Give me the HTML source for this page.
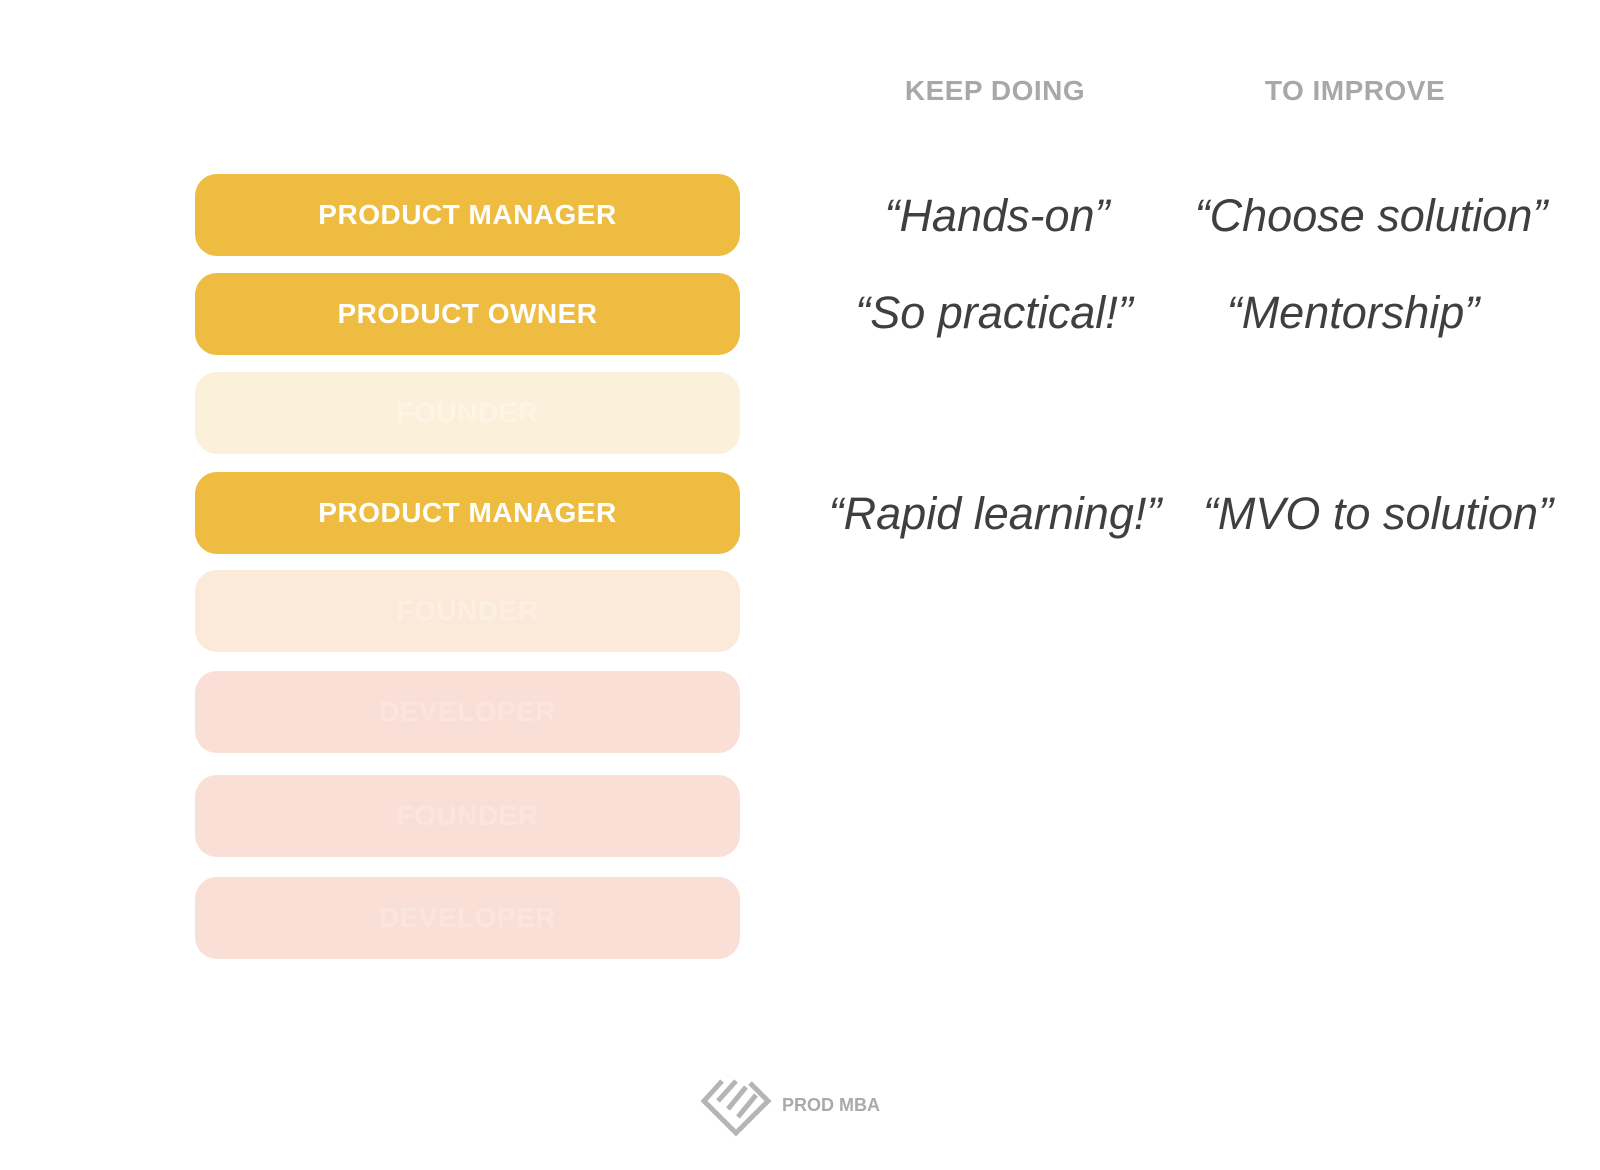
<!DOCTYPE html>
<html><head><meta charset="utf-8"><style>
body{margin:0;width:1600px;height:1170px;background:#fff;position:relative;overflow:hidden;font-family:"Liberation Sans",sans-serif}
.b{position:absolute;left:195px;width:545px;height:82px;border-radius:22px;color:#fff;font-weight:bold;font-size:28px;letter-spacing:.5px;display:flex;align-items:center;justify-content:center}
.g{background:#EDBC40}
.h{position:absolute;font-weight:bold;font-size:28px;color:#a8a8a8;transform:translate(-50%,-50%);white-space:nowrap;letter-spacing:.5px}
.q{position:absolute;font-style:italic;font-size:45px;color:#3f3f3f;transform:translate(-50%,-50%);white-space:nowrap}
</style></head><body>
<div class="h" style="left:995px;top:91px">KEEP DOING</div>
<div class="h" style="left:1355px;top:91px">TO IMPROVE</div>

<div class="b g" style="top:174px">PRODUCT MANAGER</div>
<div class="b g" style="top:273px">PRODUCT OWNER</div>
<div class="b" style="top:372px;background:#FBF0D9;color:#FCF4E4">FOUNDER</div>
<div class="b g" style="top:472px">PRODUCT MANAGER</div>
<div class="b" style="top:570px;background:#FBEAD9;color:#FCEFE3">FOUNDER</div>
<div class="b" style="top:671px;background:#FADFD6;color:#FBE6DF">DEVELOPER</div>
<div class="b" style="top:775px;background:#FADFD6;color:#FBE6DF">FOUNDER</div>
<div class="b" style="top:877px;background:#FADFD6;color:#FBE6DF">DEVELOPER</div>

<div class="q" style="left:997px;top:216px">“Hands-on”</div>
<div class="q" style="left:1371px;top:216px">“Choose solution”</div>
<div class="q" style="left:994px;top:313px">“So practical!”</div>
<div class="q" style="left:1353px;top:313px">“Mentorship”</div>
<div class="q" style="left:995px;top:514px">“Rapid learning!”</div>
<div class="q" style="left:1378px;top:514px">“MVO to solution”</div>

<svg style="position:absolute;left:700px;top:1077px" width="72" height="60" viewBox="0 0 72 60">
<g fill="none" stroke="#b5b5b5" stroke-width="5">
<path d="M22 4 L4 24 L36 56 L68 24 L50 6"/>
<path d="M36 4 L18 24"/>
<path d="M46 10 L28 32"/>
<path d="M56 18 L38 40"/>
</g></svg>
<div style="position:absolute;left:782px;top:1095px;font-weight:bold;font-size:18px;color:#aaa">PROD MBA</div>
</body></html>
